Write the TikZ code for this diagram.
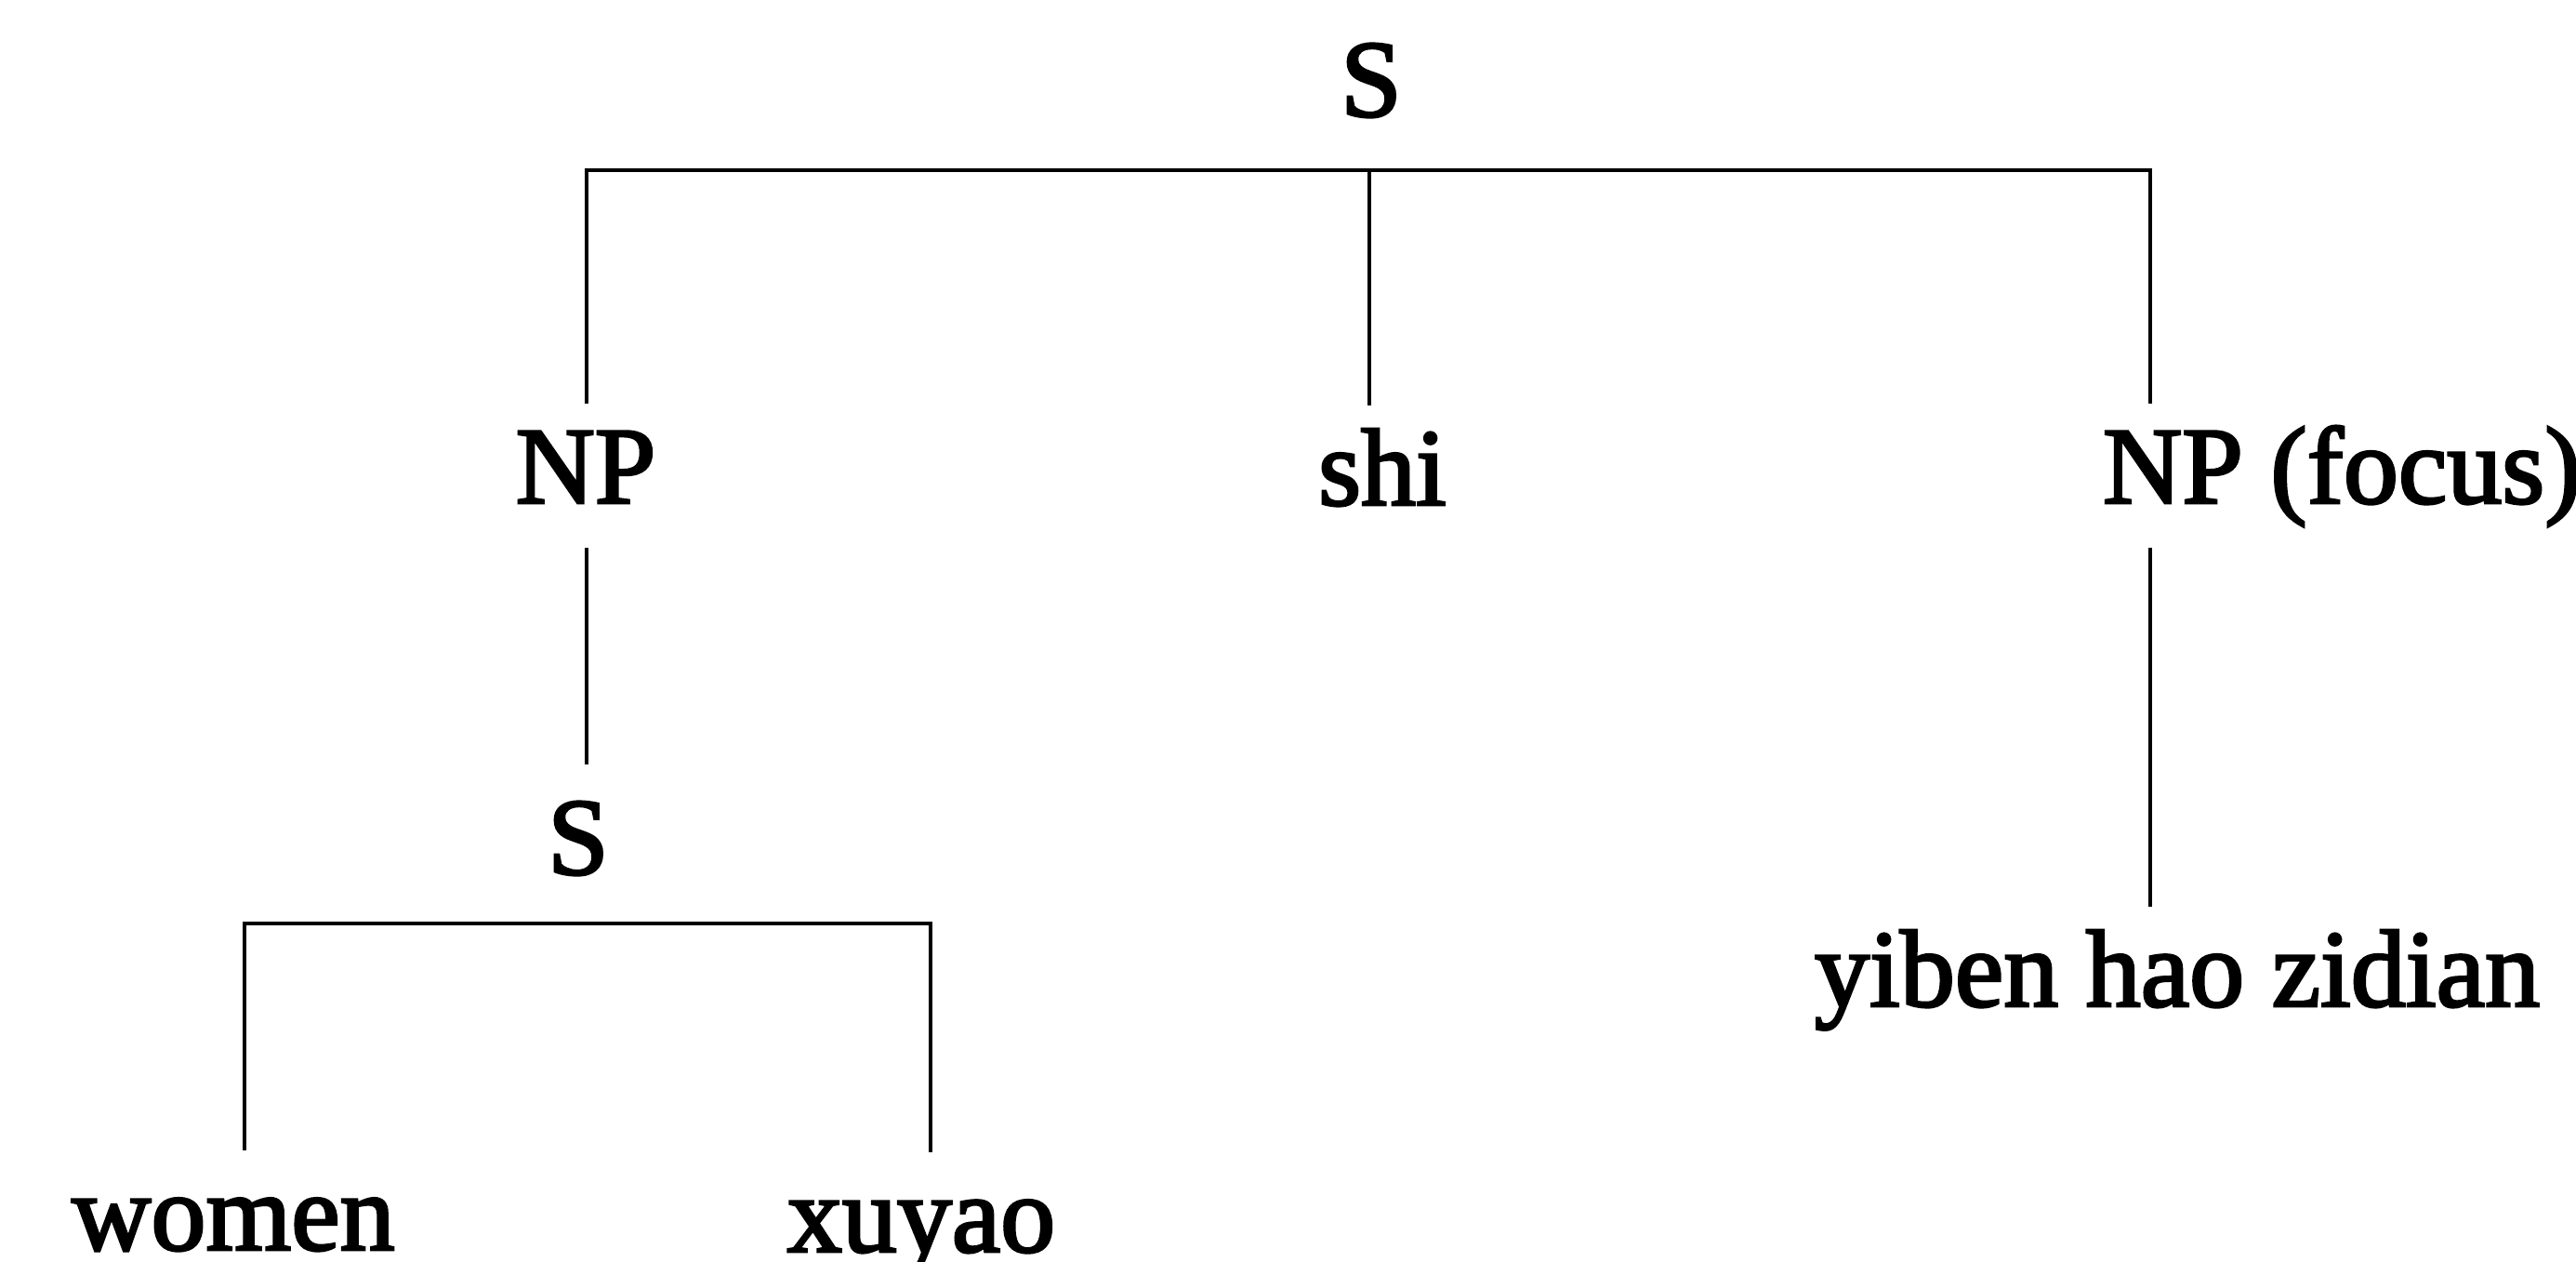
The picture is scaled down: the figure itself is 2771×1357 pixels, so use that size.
\documentclass[tikz,border=0pt]{standalone}
\usepackage{fontspec}
\newfontfamily\treefont{Liberation Serif}[FakeBold=2.5]
\begin{document}
\begin{tikzpicture}[x=1pt,y=-1pt,
  lbl/.style={font=\treefont\fontsize{118}{140}\selectfont, anchor=base,
              text height=83pt, text depth=24pt, inner sep=24pt, outer sep=0pt},
  branch/.style={line width=4pt, line cap=butt},
  bar/.style={line width=4.5pt, line cap=rect}]
\useasboundingbox (0,0) rectangle (2771,1357);
% nodes
\node[lbl] (s1) at (1475,125) {S};
\node[lbl] (np1) at (630,541) {NP};
\node[lbl] (shi) at (1487,543) {shi};
\node[lbl, anchor=base west] (npf) at (2238,541) {NP (focus)};
\node[lbl, text height=94pt] (s2) at (622,940) {S};
\node[lbl] (women) at (251,1344) {women};
\node[lbl] (xuyao) at (991,1346) {xuyao};
\node[lbl] (yb) at (2342,1082) {yiben hao zidian};
% bar coordinates
\coordinate (b1) at (631,183);
\coordinate (b2) at (1473,183);
\coordinate (b3) at (2313,183);
\coordinate (c1) at (263,993);
\coordinate (c2) at (1001,993);
% connectors
\draw[bar] (b1) -- (b3);
\draw[branch] (b1) -- (b1 |- np1.north);
\draw[branch] (b2) -- (b2 |- shi.north);
\draw[branch] (b3) -- (b3 |- npf.north);
\draw[branch] (b1 |- np1.south) -- (b1 |- s2.north);
\draw[branch] (b3 |- npf.south) -- (b3 |- yb.north);
\draw[bar] (c1) -- (c2);
\draw[branch] (c1) -- (c1 |- women.north);
\draw[branch] (c2) -- (c2 |- xuyao.north);
\end{tikzpicture}
\end{document}
